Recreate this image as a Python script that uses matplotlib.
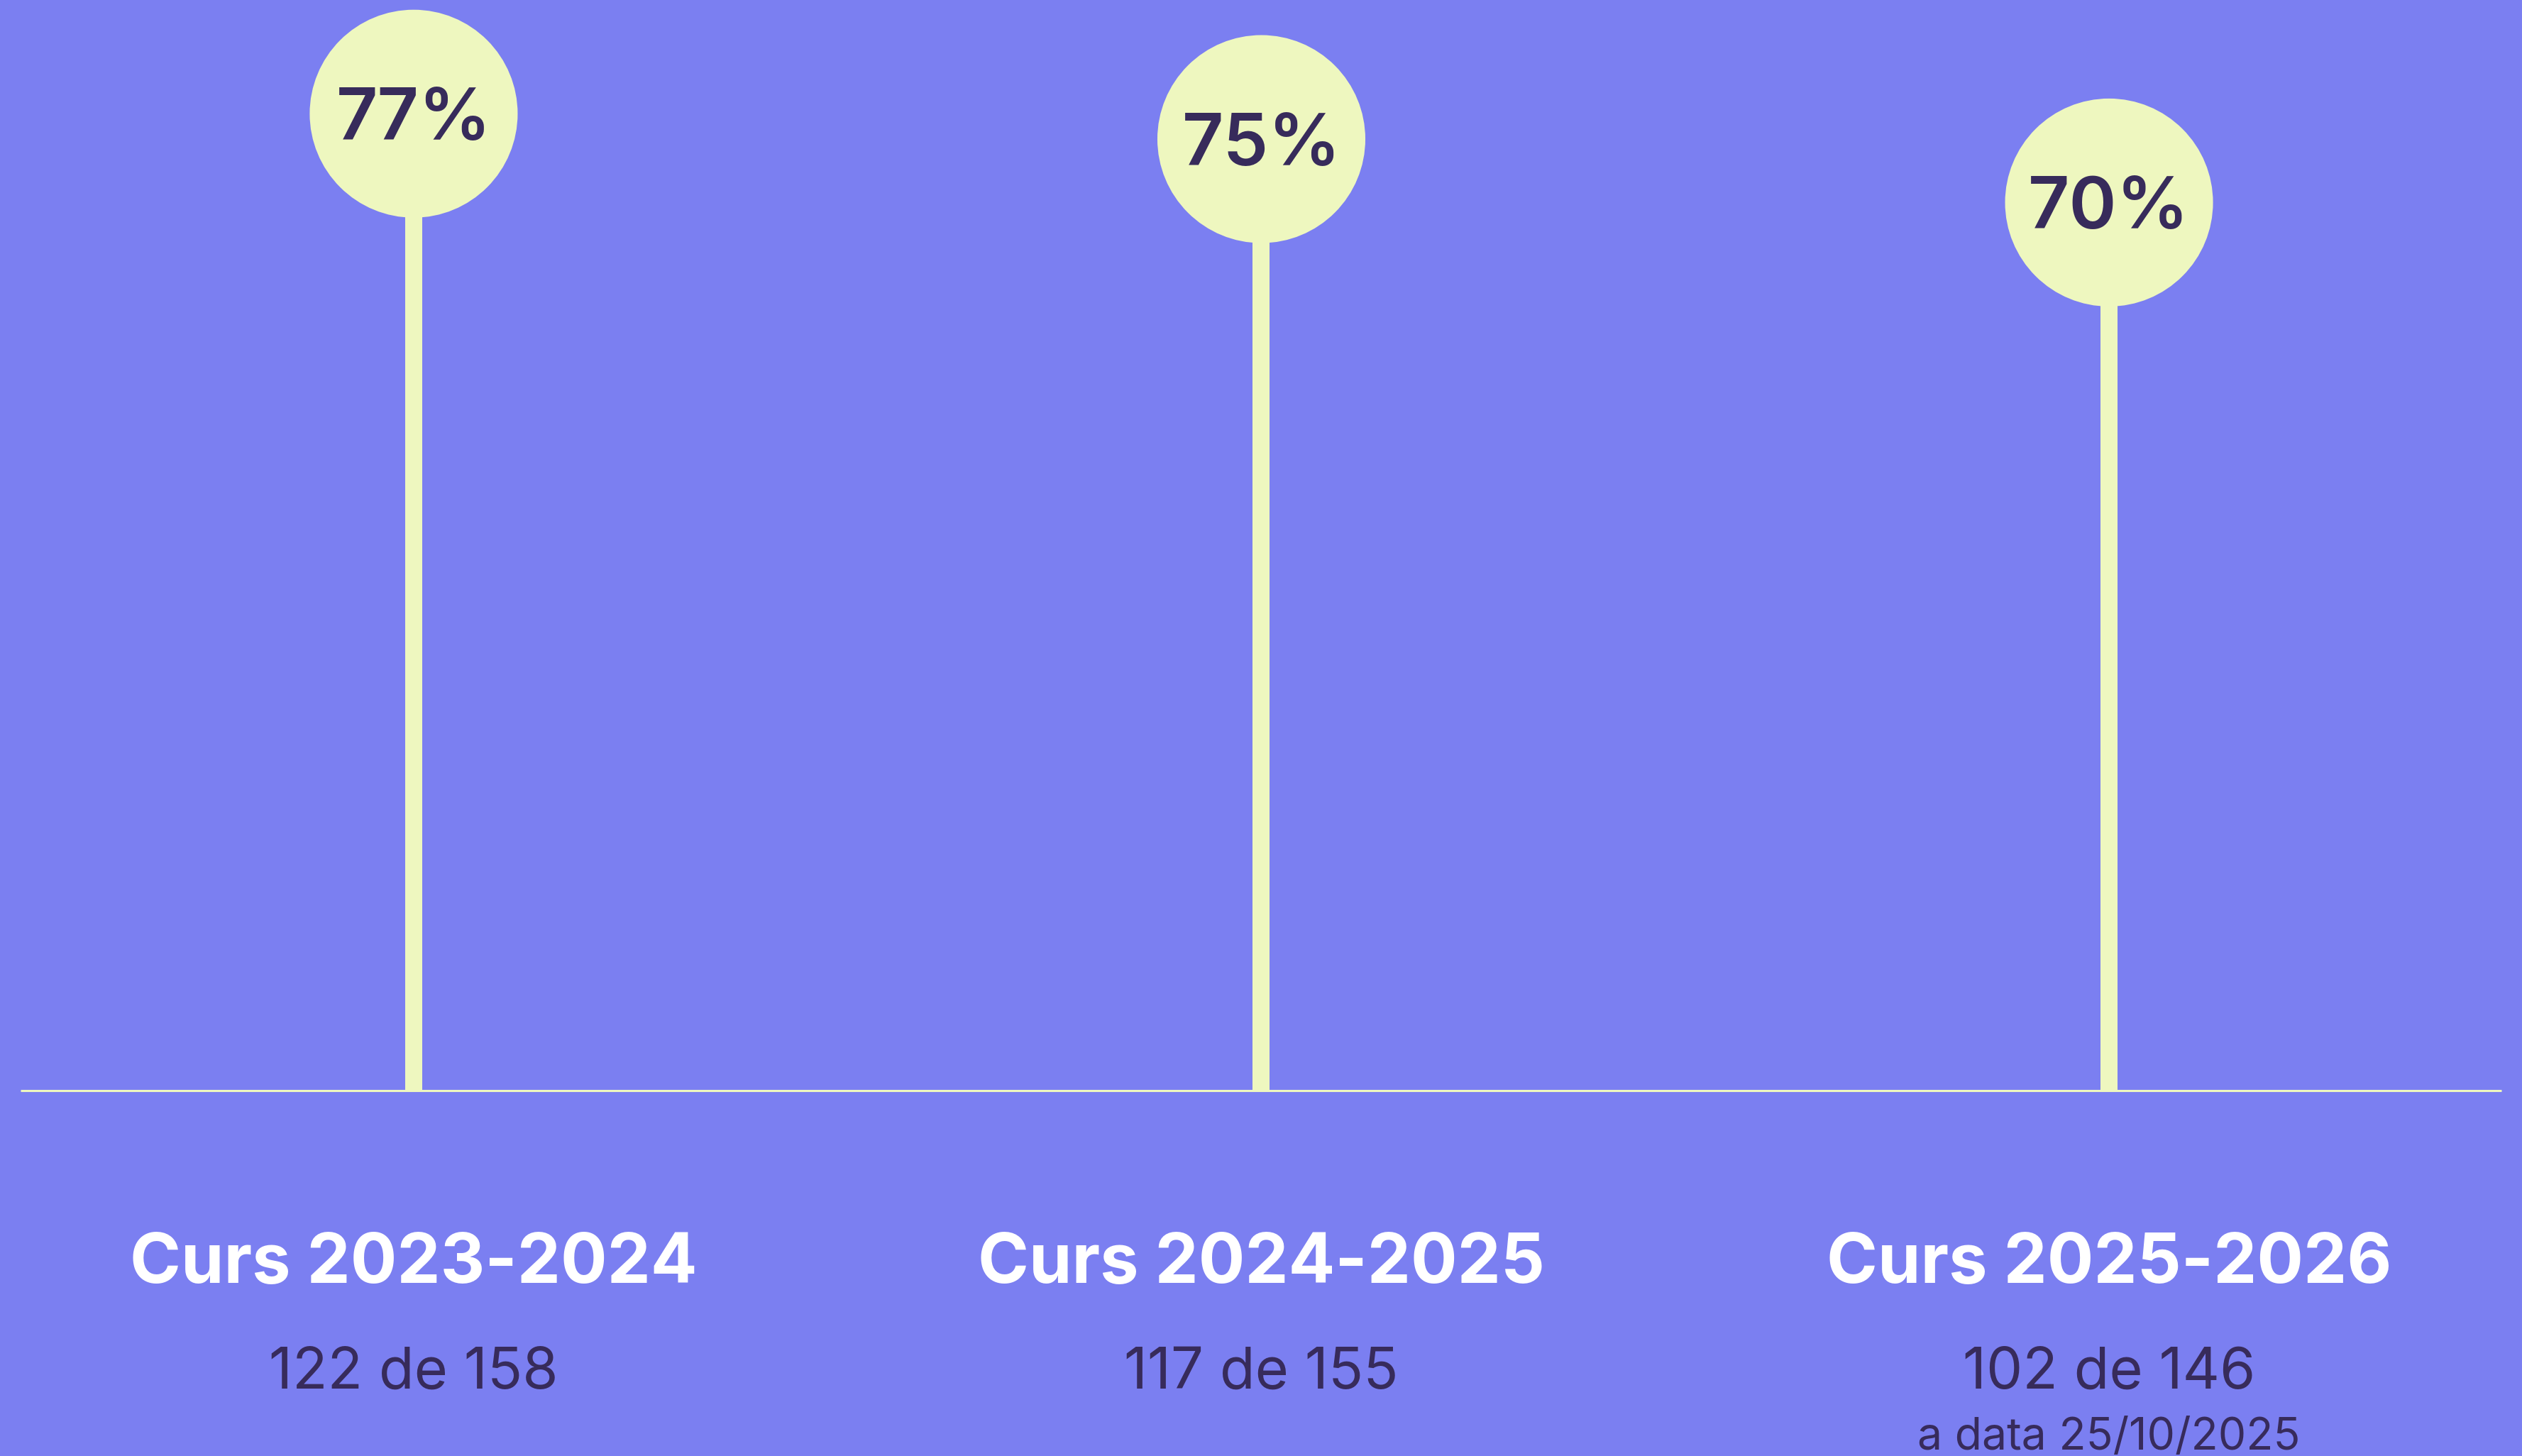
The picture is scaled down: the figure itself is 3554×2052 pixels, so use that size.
import matplotlib
matplotlib.use("Agg")
import matplotlib.pyplot as plt

# data
cursos = ["Curs 2023-2024", "Curs 2024-2025", "Curs 2025-2026"]
percentatges = [77, 75, 70]
detall = ["122 de 158", "117 de 155", "102 de 146"]
nota = ["", "", "a data 25/10/2025"]

bg = "#7B7FF1"
pale = "#EEF7BF"
dark = "#372B5B"

plt.rcParams['font.family'] = ['Inter', 'DejaVu Sans']

fig = plt.figure(figsize=(35.55, 20.52), dpi=100)
fig.patch.set_facecolor(bg)
ax = fig.add_axes([0, 0, 1, 1])
ax.set_facecolor(bg)
ax.axis('off')

px = 17.88  # pixels per percentage unit
ax.set_xlim(-0.488, 2.488)
ax.set_ylim(-(2052 - 1537) / px, 1537 / px)

xs = list(range(len(cursos)))

# baseline
ax.hlines(0, -0.464, 2.463, color=pale, linewidth=2.2, zorder=1)

# stems + lollipop heads
ax.vlines(xs, 0, percentatges, color=pale, linewidth=17.3, zorder=2)
ax.scatter(xs, percentatges, s=211 ** 2, color=pale, edgecolors='none', zorder=3)

for i, x in enumerate(xs):
    ax.text(x, percentatges[i] - 37 / px, f"{percentatges[i]}%", ha='center', va='baseline',
            fontsize=73, fontweight='semibold', color=dark, zorder=4)
    ax.text(x, -(1808 - 1537) / px, cursos[i], ha='center', va='baseline',
            fontsize=70, fontweight='bold', color='white')
    ax.text(x, -(1957 - 1537) / px, detall[i], ha='center', va='baseline',
            fontsize=58.5, color=dark)
    if nota[i]:
        ax.text(x, -(2043 - 1537) / px, nota[i], ha='center', va='baseline',
                fontsize=45, color=dark)

fig.savefig("out.png", dpi=100, facecolor=bg)
